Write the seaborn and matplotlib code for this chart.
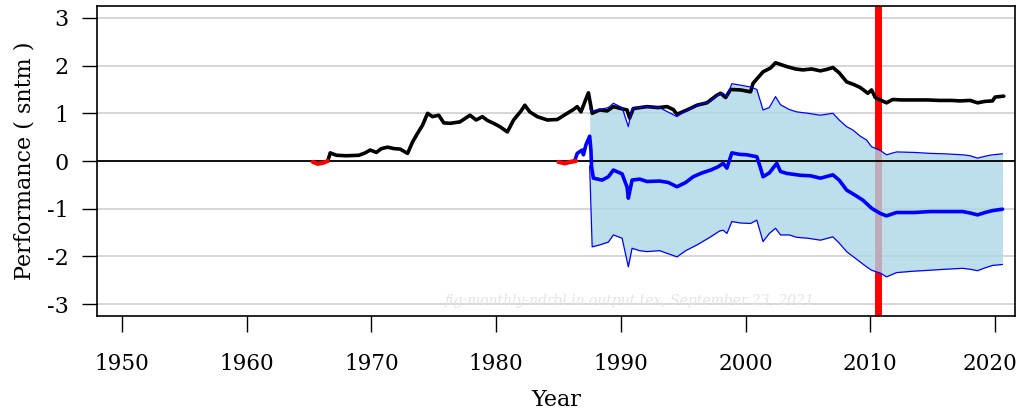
import matplotlib
matplotlib.use("Agg")
import matplotlib.pyplot as plt
import matplotlib.transforms as mtransforms
import seaborn as sns

# ---------------- data ----------------
black_years = [1966.5, 1966.7, 1967.2, 1968.0, 1969.0, 1969.5, 1969.9, 1970.4, 1970.8, 1971.3,
               1971.8, 1972.3, 1972.9, 1973.3, 1973.7, 1974.1, 1974.5, 1974.9, 1975.4, 1975.8,
               1976.3, 1977.1, 1977.9, 1978.4, 1978.9, 1979.3, 1979.8, 1980.3, 1980.9, 1981.4,
               1982.0, 1982.3, 1982.7, 1983.3, 1984.1, 1984.9, 1985.7, 1986.2, 1986.5, 1986.8,
               1987.2, 1987.4, 1987.7, 1988.3, 1988.9, 1989.4, 1990.0, 1990.5, 1990.7, 1991.0,
               1992.1, 1993.0, 1993.7, 1994.2, 1994.5, 1995.3, 1996.1, 1996.9, 1997.7, 1998.0,
               1998.4, 1998.8, 1999.6, 2000.4, 2000.6, 2001.0, 2001.4, 2002.0, 2002.4, 2003.3,
               2004.0, 2004.6, 2005.3, 2006.0, 2006.5, 2007.0, 2007.5, 2008.1, 2008.7, 2009.2,
               2009.8, 2010.1, 2010.4, 2010.8, 2011.3, 2011.8, 2012.5, 2013.5, 2014.6, 2015.5,
               2016.5, 2017.2, 2018.0, 2018.6, 2019.2, 2019.8, 2020.0, 2020.7]
black_vals = [0.00, 0.17, 0.12, 0.11, 0.12, 0.17, 0.23, 0.18, 0.26, 0.29,
              0.26, 0.25, 0.16, 0.40, 0.58, 0.75, 1.00, 0.93, 0.96, 0.80,
              0.79, 0.82, 0.96, 0.86, 0.93, 0.85, 0.79, 0.72, 0.61, 0.86,
              1.05, 1.17, 1.03, 0.93, 0.86, 0.87, 1.00, 1.08, 1.14, 1.03,
              1.30, 1.43, 1.00, 1.07, 1.05, 1.14, 1.10, 1.07, 0.90, 1.10,
              1.14, 1.12, 1.14, 1.08, 0.98, 1.07, 1.17, 1.22, 1.38, 1.42,
              1.33, 1.50, 1.49, 1.45, 1.63, 1.75, 1.87, 1.95, 2.06, 1.98,
              1.93, 1.91, 1.93, 1.89, 1.92, 1.96, 1.85, 1.66, 1.60, 1.54,
              1.42, 1.49, 1.33, 1.28, 1.22, 1.29, 1.28, 1.28, 1.28, 1.27,
              1.27, 1.26, 1.27, 1.22, 1.25, 1.26, 1.34, 1.36]

center_years = [1985.5, 1986.3, 1986.5, 1986.9, 1987.0, 1987.2, 1987.5, 1987.6, 1987.65, 1987.8,
                1988.5, 1989.0, 1989.4, 1990.1, 1990.5, 1990.6, 1990.9, 1991.5, 1992.1, 1993.1,
                1993.8, 1994.5, 1995.2, 1995.8, 1996.5, 1997.2, 1997.8, 1998.2, 1998.5, 1998.9,
                1999.5, 2000.1, 2000.9, 2001.2, 2001.4, 2001.9, 2002.5, 2002.8, 2003.3, 2004.4,
                2005.2, 2006.0, 2007.0, 2007.5, 2008.1, 2008.8, 2009.4, 2010.1, 2010.8, 2011.3,
                2012.1, 2013.5, 2014.8, 2016.0, 2017.4, 2018.0, 2018.6, 2019.2, 2019.8, 2020.6]
center_vals = [-0.05, 0.00, 0.16, 0.23, 0.13, 0.34, 0.52, 0.23, -0.12, -0.36,
               -0.40, -0.33, -0.19, -0.27, -0.55, -0.78, -0.40, -0.38, -0.43, -0.42,
               -0.45, -0.54, -0.45, -0.33, -0.25, -0.19, -0.12, -0.05, -0.15, 0.17,
               0.14, 0.13, 0.09, -0.15, -0.33, -0.25, -0.05, -0.22, -0.26, -0.30,
               -0.31, -0.36, -0.29, -0.40, -0.61, -0.72, -0.82, -0.99, -1.10, -1.15,
               -1.08, -1.08, -1.06, -1.06, -1.06, -1.09, -1.13, -1.08, -1.04, -1.01]

band_years = [1987.5, 1987.7, 1988.3, 1989.0, 1989.4, 1990.1, 1990.6, 1990.9, 1991.5, 1992.1,
              1993.1, 1994.5, 1995.2, 1996.1, 1997.2, 1997.9, 1998.2, 1998.5, 1998.9, 1999.6,
              2000.4, 2000.9, 2001.4, 2001.9, 2002.4, 2002.8, 2003.5, 2004.1, 2005.0, 2006.0,
              2007.0, 2007.5, 2008.1, 2008.6, 2009.2, 2009.7, 2010.1, 2010.8, 2011.3, 2012.1,
              2013.5, 2014.8, 2016.0, 2017.4, 2018.0, 2018.6, 2019.2, 2019.8, 2020.6]
band_upper = [1.10, 1.05, 1.08, 1.12, 1.21, 1.12, 0.72, 1.10, 1.12, 1.14,
              1.12, 0.93, 1.05, 1.17, 1.25, 1.40, 1.42, 1.35, 1.62, 1.59,
              1.55, 1.50, 1.07, 1.12, 1.35, 1.18, 1.08, 1.03, 1.00, 0.96,
              1.00, 0.86, 0.72, 0.65, 0.52, 0.44, 0.30, 0.22, 0.13, 0.19,
              0.18, 0.16, 0.15, 0.13, 0.11, 0.06, 0.10, 0.13, 0.15]
band_lower = [-0.10, -1.80, -1.76, -1.70, -1.55, -1.62, -2.22, -1.83, -1.88, -1.90,
              -1.88, -2.01, -1.88, -1.76, -1.59, -1.47, -1.45, -1.52, -1.27, -1.30,
              -1.31, -1.24, -1.69, -1.52, -1.41, -1.55, -1.55, -1.60, -1.62, -1.66,
              -1.59, -1.72, -1.90, -2.00, -2.12, -2.22, -2.29, -2.35, -2.43, -2.34,
              -2.31, -2.29, -2.27, -2.25, -2.27, -2.30, -2.24, -2.19, -2.17]

red1_years = [1965.3, 1965.7, 1966.1, 1966.5]
red1_vals = [-0.02, -0.06, -0.04, 0.00]
red2_years = [1985.0, 1985.5, 1985.9, 1986.4]
red2_vals = [-0.02, -0.05, -0.02, 0.00]

break_year = 2010.65
x_ticks = [1950, 1960, 1970, 1980, 1990, 2000, 2010, 2020]
y_ticks = [-3, -2, -1, 0, 1, 2, 3]
watermark = "fig:monthly-ndrbl in output.tex, September 23, 2021"

# ---------------- plot ----------------
sns.set_theme(style="white")
plt.rcParams['font.family'] = ['DejaVu Serif']
plt.rcParams['axes.unicode_minus'] = False

fig = plt.figure(figsize=(10.19, 4.18), dpi=100)
ax = fig.add_axes([97 / 1019, 102 / 418, 918 / 1019, 310 / 418])

for yv in y_ticks:
    ax.axhline(yv, color='#d3d3d3', lw=1.3, zorder=0)

ax.axvline(break_year, color='red', lw=5, zorder=1)
ax.fill_between(band_years, band_lower, band_upper, color='lightblue', alpha=0.8,
                lw=0, zorder=2)
ax.axhline(0, color='black', lw=1.3, zorder=3)

sns.lineplot(x=black_years, y=black_vals, ax=ax, color='black', lw=2.6,
             estimator=None, sort=False, zorder=4)
sns.lineplot(x=band_years, y=band_upper, ax=ax, color='blue', lw=0.9,
             estimator=None, sort=False, zorder=5)
sns.lineplot(x=band_years, y=band_lower, ax=ax, color='blue', lw=0.9,
             estimator=None, sort=False, zorder=5)
sns.lineplot(x=center_years, y=center_vals, ax=ax, color='blue', lw=2.6,
             estimator=None, sort=False, zorder=5)
sns.lineplot(x=red1_years, y=red1_vals, ax=ax, color='red', lw=3,
             estimator=None, sort=False, zorder=6)
sns.lineplot(x=red2_years, y=red2_vals, ax=ax, color='red', lw=3,
             estimator=None, sort=False, zorder=6)

ax.set_xlim(1948.0, 2021.6)
ax.set_ylim(-3.25, 3.25)
ax.set_xticks(x_ticks)
ax.set_xticklabels([str(v) for v in x_ticks])
ax.set_yticks(y_ticks)
ax.set_yticklabels([str(v) for v in y_ticks])
ax.tick_params(axis='x', direction='out', length=11.5, width=1, pad=15,
               labelsize=15.5, colors='black', bottom=True)
ax.tick_params(axis='y', direction='out', length=10.5, width=1, pad=10,
               labelsize=16, colors='black', left=True)
for sp in ax.spines.values():
    sp.set_color('black')
    sp.set_linewidth(1.2)

# keep the last year label inside the canvas
last_lbl = ax.get_xticklabels()[-1]
last_lbl.set_transform(last_lbl.get_transform() +
                       mtransforms.ScaledTranslation(-5 / 100, 0, fig.dpi_scale_trans))

ax.set_xlabel("Year", fontsize=16, labelpad=10, color='black')
ax.set_ylabel("Performance ( sntm )", fontsize=16, labelpad=8, color='black')

ax.text(630 / 1019, 1 - 301 / 418, watermark, transform=fig.transFigure,
        ha='center', va='center', fontsize=10, style='italic', color='#e4e4e4',
        zorder=7)

fig.savefig("out.png", dpi=100)
